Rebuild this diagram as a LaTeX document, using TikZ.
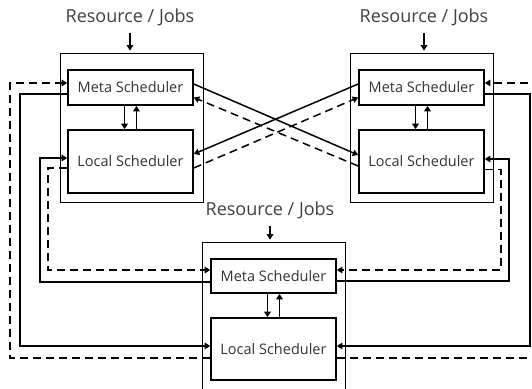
\documentclass[tikz,border=0pt]{standalone}
\usepackage{fontspec}
\setmainfont{Open Sans}
\usetikzlibrary{arrows.meta}
\tikzset{
  flow/.style={line width=1.5pt, -{Triangle[length=5.5pt,width=6.5pt]}},
  dashflow/.style={flow, dash pattern=on 8pt off 5pt},
  schedbox/.style={draw, line width=1.6pt, minimum width=125pt, text=black!80, font=\fontsize{14.5}{16}\selectfont},
  hostbox/.style={draw, line width=0.7pt, minimum width=143pt, minimum height=149pt},
  reslabel/.style={text=black!75, font=\fontsize{18}{20}\selectfont, inner sep=1pt},
}
\begin{document}
\begin{tikzpicture}[x=1pt, y=-1pt]
\useasboundingbox (0,0) rectangle (532,388);
\clip (0,0) rectangle (532,388);

% hosts
\node[hostbox] (tlbox) at (131.5,127.5) {};
\node[hostbox] (trbox) at (421.5,127.5) {};
\node[hostbox, minimum height=156pt] (botbox) at (274,320) {};

\node[reslabel] (tlres) at (130,17) {Resource / Jobs};
\node[reslabel] (trres) at (424,17) {Resource / Jobs};
\node[reslabel] (botres) at (270,210) {Resource / Jobs};

\node[schedbox, minimum height=35pt] (tlmeta) at (130.5,87.5) {Meta Scheduler};
\node[schedbox, minimum height=63pt] (tllocal) at (130.5,161.5) {Local Scheduler};
\node[schedbox, minimum height=35pt] (trmeta) at (421.5,87.5) {Meta Scheduler};
\node[schedbox, minimum height=63pt] (trlocal) at (421.5,161.5) {Local Scheduler};
\node[schedbox, minimum height=34pt] (botmeta) at (273.5,276) {Meta Scheduler};
\node[schedbox, minimum height=62pt] (botlocal) at (273.5,349) {Local Scheduler};

% input arrows
\draw[flow, shorten <=6pt, shorten >=2pt] (tlres) -- (tlres |- tlbox.north);
\draw[flow, shorten <=6pt, shorten >=2pt] (trres) -- (trres |- trbox.north);
\draw[flow, shorten <=6pt, shorten >=2pt] (botres) -- (botres |- botbox.north);

% meta <-> local
\draw[flow] ([xshift=-6pt]tlmeta.south) -- ([xshift=-6pt]tllocal.north);
\draw[flow] ([xshift=6pt]tllocal.north) -- ([xshift=6pt]tlmeta.south);
\draw[flow] ([xshift=-6pt]trmeta.south) -- ([xshift=-6pt]trlocal.north);
\draw[flow] ([xshift=6pt]trlocal.north) -- ([xshift=6pt]trmeta.south);
\draw[flow] ([xshift=-6pt]botmeta.south) -- ([xshift=-6pt]botlocal.north);
\draw[flow] ([xshift=6pt]botlocal.north) -- ([xshift=6pt]botmeta.south);

% top crossing
\draw[flow] ([yshift=3.5pt]tlmeta.east) -- ([yshift=6.5pt]trlocal.west);
\draw[dashflow] ([yshift=-4.5pt]trlocal.west) -- ([yshift=-10pt]tlmeta.east);
\draw[flow] ([yshift=3.5pt]trmeta.west) -- ([yshift=7.5pt]tllocal.west -| tllocal.east);
\draw[dashflow] ([yshift=-6.5pt]tllocal.east) -- ([yshift=-10pt]trmeta.west);

% left loops
\draw[dashflow] ([yshift=-9pt]botlocal.west) -| ([xshift=-57pt,yshift=4.5pt]tlmeta.west) -- ([yshift=4.5pt]tlmeta.west);
\draw[flow] ([yshift=-6.5pt]tlmeta.west) -| ([xshift=-190pt,yshift=3pt]botlocal.west) -- ([yshift=3pt]botlocal.west);
\draw[flow] ([yshift=-6pt]botmeta.west) -| ([xshift=-27pt,yshift=3.5pt]tllocal.west) -- ([yshift=3.5pt]tllocal.west);
\draw[dashflow] ([yshift=-6.5pt]tllocal.west) -| ([xshift=-162pt,yshift=6pt]botmeta.west) -- ([yshift=6pt]botmeta.west);

% right loops
\draw[dashflow] ([yshift=-9pt]botlocal.east) -| ([xshift=57pt,yshift=4.5pt]trmeta.east) -- ([yshift=4.5pt]trmeta.east);
\draw[flow] ([yshift=-6.5pt]trmeta.east) -| ([xshift=193pt,yshift=3pt]botlocal.east) -- ([yshift=3pt]botlocal.east);
\draw[flow] ([yshift=-5pt]botmeta.east) -| ([xshift=24pt,yshift=2.5pt]trlocal.east) -- ([yshift=2.5pt]trlocal.east);
\draw[dashflow] ([yshift=-8pt]trlocal.east) -| ([xshift=164pt,yshift=6pt]botmeta.east) -- ([yshift=6pt]botmeta.east);
\end{tikzpicture}
\end{document}
